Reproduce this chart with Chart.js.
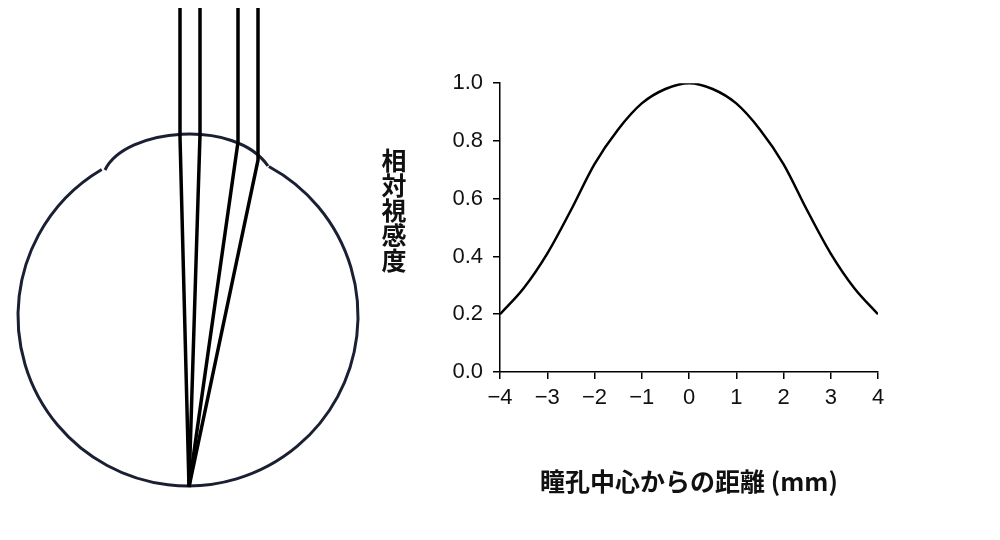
<!DOCTYPE html>
<html>
<head>
<meta charset="utf-8">
<script src="https://cdn.jsdelivr.net/npm/chart.js@4"></script>
<style>
  body { margin: 0; background: #fff; width: 1000px; height: 540px; overflow: hidden; position: relative; font-family: "Noto Sans CJK JP", sans-serif; }
  #eye { position: absolute; left: 0; top: 0; }
  #wrap { position: absolute; left: 400px; top: 60px; width: 520px; height: 440px; }
  #ytitle { position: absolute; left: 376px; top: 148px; writing-mode: vertical-rl; font-size: 25px; font-weight: bold; letter-spacing: 0px; color: #111; }
</style>
</head>
<body>
<canvas id="eye" width="380" height="540"></canvas>
<div id="ytitle">相対視感度</div>
<div id="wrap"><canvas id="myChart"></canvas></div>
<script>
  const distances = [-4, -3.5, -3, -2.5, -2, -1.5, -1, -0.5, 0, 0.5, 1, 1.5, 2, 2.5, 3, 3.5, 4];
  const sensitivity = [0.2, 0.29, 0.41, 0.56, 0.72, 0.84, 0.93, 0.98, 1.0, 0.98, 0.93, 0.84, 0.72, 0.56, 0.41, 0.29, 0.2];
  const xTickLabels = ['−4', '−3', '−2', '−1', '0', '1', '2', '3', '4'];

  // eye diagram (illustration, not data)
  const drawEye = function(){
    const ctx = document.getElementById('eye').getContext('2d');
    const deg = Math.PI / 180;
    ctx.strokeStyle = '#1a1f33';
    ctx.lineWidth = 3;
    ctx.beginPath();
    ctx.arc(188, 316, 170, -61.6 * deg, 239.5 * deg, false);
    ctx.stroke();
    ctx.beginPath();
    ctx.moveTo(105, 170);
    ctx.bezierCurveTo(125, 128, 235, 118, 268, 166);
    ctx.stroke();

    ctx.strokeStyle = '#000';
    ctx.lineWidth = 3.5;
    const rays = [[180, 137], [200, 135], [238, 142], [258, 160]];
    for(let r of rays){
      ctx.beginPath();
      ctx.moveTo(r[0], 8);
      ctx.lineTo(r[0], r[1]);
      ctx.lineTo(189, 487);
      ctx.stroke();
    }
  };
  drawEye();

  const ctx = document.getElementById('myChart').getContext('2d');
  // eslint-disable-next-line no-undef, no-unused-vars
  const myChart = new Chart(ctx, {
    type: 'line',
    data: {
      datasets: [{
        data: distances.map((d, i) => ({ x: d, y: sensitivity[i] })),
        borderColor: '#000',
        borderWidth: 2.5,
        pointRadius: 0,
        cubicInterpolationMode: 'monotone',
        fill: false,
      }]
    },
    options: {
      responsive: true,
      maintainAspectRatio: false,
      animation: false,
      layout: { padding: { top: 22, right: 42 } },
      plugins: { legend: { display: false }, tooltip: { enabled: false } },
      scales: {
        x: {
          type: 'linear',
          min: -4,
          max: 4,
          afterFit: (scale) => { scale.height = 128; },
          afterBuildTicks: (scale) => { scale.ticks = xTickLabels.map((t, i) => ({ value: i - 4 })); },
          ticks: {
            color: '#111',
            font: { size: 22, family: 'Liberation Sans' },
            padding: 6,
            callback: (v) => xTickLabels[v + 4],
          },
          grid: { drawOnChartArea: false, color: '#000', tickLength: 7, lineWidth: 1.5 },
          border: { color: '#000', width: 1.5 },
          title: {
            display: true,
            text: '瞳孔中心からの距離 (mm)',
            color: '#111',
            font: { size: 25, weight: 'bold', family: 'Noto Sans CJK JP' },
            padding: { top: 8 },
          },
        },
        y: {
          min: 0,
          max: 1,
          afterFit: (scale) => { scale.width = 100; },
          ticks: {
            stepSize: 0.2,
            color: '#111',
            font: { size: 22, family: 'Liberation Sans' },
            padding: 10,
            callback: (v) => v.toFixed(1),
          },
          grid: { drawOnChartArea: false, color: '#000', tickLength: 7, lineWidth: 1.5 },
          border: { color: '#000', width: 1.5 },
        }
      }
    }
  });
</script>
</body>
</html>
